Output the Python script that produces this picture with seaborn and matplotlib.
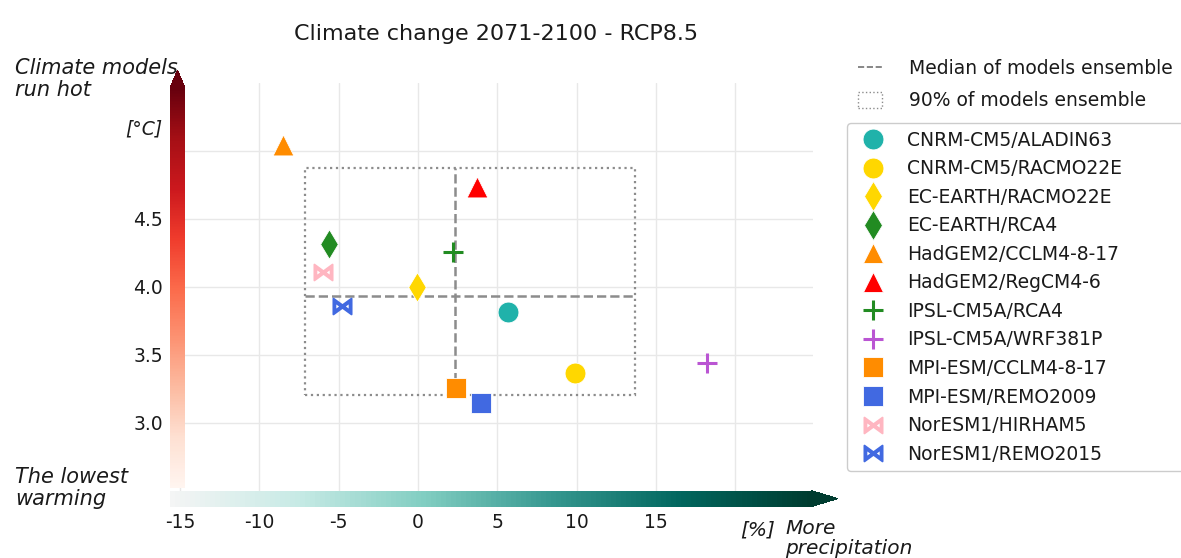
import numpy as np
import matplotlib
matplotlib.use("Agg")
import matplotlib as mpl
import matplotlib.pyplot as plt
from matplotlib.colors import Normalize, LinearSegmentedColormap
from matplotlib.lines import Line2D
from matplotlib.patches import Patch, Rectangle
import seaborn as sns

# ---- data -------------------------------------------------------------
models = ["CNRM-CM5/ALADIN63", "CNRM-CM5/RACMO22E", "EC-EARTH/RACMO22E",
          "EC-EARTH/RCA4", "HadGEM2/CCLM4-8-17", "HadGEM2/RegCM4-6",
          "IPSL-CM5A/RCA4", "IPSL-CM5A/WRF381P", "MPI-ESM/CCLM4-8-17",
          "MPI-ESM/REMO2009", "NorESM1/HIRHAM5", "NorESM1/REMO2015"]
precip_change = [5.66, 9.90, -0.08, -5.63, -8.53, 3.72,
                 2.23, 18.24, 2.38, 3.95, -5.97, -4.77]      # [%]
temp_change = [3.814, 3.370, 4.002, 4.316, 5.046, 4.737,
               4.255, 3.439, 3.255, 3.145, 4.108, 3.862]     # [°C]
colors = ["lightseagreen", "gold", "gold", "forestgreen", "darkorange", "red",
          "forestgreen", "mediumorchid", "darkorange", "royalblue",
          "lightpink", "royalblue"]
markers = ["o", "o", "d", "d", "^", "^", "+", "+", "s", "s",
           r"$\bowtie$", r"$\bowtie$"]

precip_ticks = [-15, -10, -5, 0, 5, 10, 15]
temp_ticks = [3.0, 3.5, 4.0, 4.5]

title = "Climate change 2071-2100 - RCP8.5"

# ---- ensemble statistics ---------------------------------------------
x_med, y_med = np.median(precip_change), np.median(temp_change)
x_lo, x_hi = np.percentile(precip_change, [5, 95])
y_lo, y_hi = np.percentile(temp_change, [5, 95])

# ---- figure ----------------------------------------------------------
W, H, DPI = 1181, 558, 100
sns.set_theme(style="whitegrid")
plt.rcParams["font.family"] = ["DejaVu Sans"]
plt.rcParams["text.color"] = "0.1"
plt.rcParams["xtick.color"] = "0.1"
plt.rcParams["ytick.color"] = "0.1"

fig = plt.figure(figsize=(W / DPI, H / DPI), dpi=DPI)


def rect(x0, y0, x1, y1):
    """pixel box (origin top-left) -> figure-fraction rectangle"""
    return [x0 / W, 1 - y1 / H, (x1 - x0) / W, (y1 - y0) / H]


ax = fig.add_axes(rect(170.6, 83, 812.9, 491))
ax.set_xlim(-15.6, 24.9)
ax.set_ylim(2.5, 5.5)
ax.set_xticks([-15, -10, -5, 0, 5, 10, 15, 20])
ax.set_yticks([3.0, 3.5, 4.0, 4.5, 5.0])
ax.tick_params(labelbottom=False, labelleft=False, length=0)
ax.grid(True, color="0.91", lw=1.0)
for s in ax.spines.values():
    s.set_visible(False)
ax.set_xlabel("")
ax.set_ylabel("")

# 90 % box and medians
ax.add_patch(Rectangle((x_lo, y_lo), x_hi - x_lo, y_hi - y_lo, fill=False,
                       ec="0.55", ls=":", lw=1.6, zorder=2))
ax.plot([x_med, x_med], [y_lo, y_hi], color="0.55", ls="--", lw=1.8, zorder=2)
ax.plot([x_lo, x_hi], [y_med, y_med], color="0.55", ls="--", lw=1.8, zorder=2)

# model points
for xv, yv, c, m in zip(precip_change, temp_change, colors, markers):
    kw = dict(x=[xv], y=[yv], color=c, marker=m, ax=ax, zorder=4, legend=False)
    if m == "+":
        sns.scatterplot(s=225, linewidth=2.2, **kw)
    elif m.startswith("$"):
        sns.scatterplot(s=170, linewidth=1.4, edgecolor=c, **kw)
    else:
        sns.scatterplot(s=225, linewidth=0.6, edgecolor="white", **kw)

# ---- colour arrows ---------------------------------------------------
reds = plt.get_cmap("Reds")
brbg = plt.get_cmap("BrBG")
greens = LinearSegmentedColormap.from_list("wet", brbg(np.linspace(0.5, 1.0, 256)))

cax_v = fig.add_axes(rect(170, 70, 185, 488))
cb_v = fig.colorbar(mpl.cm.ScalarMappable(Normalize(2.522, 5.463), reds),
                    cax=cax_v, orientation="vertical", extend="max",
                    extendfrac=0.045)
cb_v.outline.set_visible(False)
cb_v.set_ticks(temp_ticks)
cb_v.set_ticklabels([f"{t:.1f}" for t in temp_ticks])
cax_v.yaxis.set_ticks_position("left")
cax_v.tick_params(length=0, pad=5, labelsize=13.5)

cax_h = fig.add_axes(rect(170, 490.7, 838, 506.5))
cb_h = fig.colorbar(mpl.cm.ScalarMappable(Normalize(-15.64, 24.82), greens),
                    cax=cax_h, orientation="horizontal", extend="max",
                    extendfrac=0.041)
cb_h.outline.set_visible(False)
cb_h.set_ticks(precip_ticks)
cb_h.set_ticklabels([str(t) for t in precip_ticks])
cax_h.tick_params(length=0, pad=4.5, labelsize=13.5)

# ---- texts -----------------------------------------------------------
fig.text(496 / W, 1 - 40 / H, title, ha="center", va="baseline", fontsize=16)
fig.text(15 / W, 1 - 58 / H, "Climate models\nrun hot", ha="left", va="top",
         style="italic", fontsize=15, linespacing=1.12)
fig.text(15 / W, 1 - 467 / H, "The lowest\nwarming", ha="left", va="top",
         style="italic", fontsize=15, linespacing=1.12)
fig.text(163 / W, 1 - 129 / H, "[°C]", ha="right", va="center",
         style="italic", fontsize=13.5)
fig.text(740 / W, 1 - 535 / H, "[%]", ha="left", va="baseline",
         style="italic", fontsize=14.5)
fig.text(785 / W, 1 - 519 / H, "More\nprecipitation", ha="left", va="top",
         style="italic", fontsize=14.5, linespacing=1.1)

# ---- legends ---------------------------------------------------------
ens_handles = [Line2D([], [], color="0.45", ls="--", lw=1.2),
               Patch(facecolor="none", edgecolor="0.55", ls=":", lw=1.0)]
fig.legend(ens_handles, ["Median of models ensemble", "90% of models ensemble"],
           loc="upper left", bbox_to_anchor=(850.5 / W, 1 - 51.5 / H),
           frameon=False, fontsize=13.5, handlelength=1.3, handleheight=0.9,
           handletextpad=1.4, labelspacing=0.72, borderaxespad=0, borderpad=0.4)

model_handles = []
for c, m in zip(colors, markers):
    if m == "+":
        h = Line2D([], [], ls="none", marker=m, color=c, markersize=15, mew=2.2)
    elif m.startswith("$"):
        h = Line2D([], [], ls="none", marker=m, color=c, markersize=13,
                   mec=c, mew=1.4)
    else:
        h = Line2D([], [], ls="none", marker=m, color=c, markersize=15,
                   mec="white", mew=0.6)
    model_handles.append(h)
fig.legend(model_handles, models, loc="upper left",
           bbox_to_anchor=(847 / W, 0, 0.35, 1 - 123 / H), mode="expand",
           frameon=True, fancybox=True, edgecolor="0.8", framealpha=1,
           fontsize=13.5, handlelength=2.0, handletextpad=0.8,
           labelspacing=0.51, borderaxespad=0, borderpad=0.4)

fig.savefig("out.png", dpi=DPI)
